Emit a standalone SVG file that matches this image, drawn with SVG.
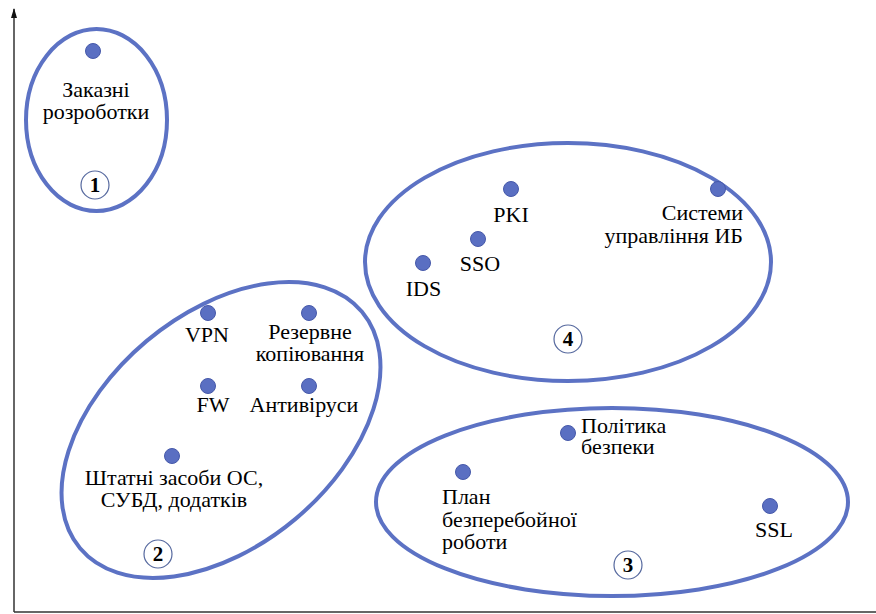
<svg xmlns="http://www.w3.org/2000/svg" width="876" height="614" viewBox="0 0 876 614">
<defs>
<style>
.grp{fill:none;stroke:#5C72C4;stroke-width:4}
.dot{fill:#5A6FC2;stroke:#4659AA;stroke-width:1}
text{font-family:'Liberation Serif','Times New Roman',serif}
.t{font-size:22px;fill:#000}
.m{text-anchor:middle}
.e{text-anchor:end}
.num{fill:#fff;stroke:#55689E;stroke-width:1.2}
.nt{font-size:21px;font-weight:bold;text-anchor:middle;fill:#000}
.ax{stroke:#333;stroke-width:1.5;fill:none}
</style>
<marker id="arr" markerWidth="10" markerHeight="10" refX="9" refY="5" orient="auto" markerUnits="userSpaceOnUse">
<path d="M0,2 L10,5 L0,8 Z" fill="#111"/>
</marker>
</defs>
<rect width="876" height="614" fill="#fff"/>
<g id="axes">
<line class="ax" x1="14" y1="612" x2="14" y2="9" marker-end="url(#arr)"/>
<line class="ax" x1="14" y1="612" x2="876" y2="612"/>
</g>
<g id="group1">
<ellipse class="grp" cx="96.5" cy="120" rx="70.5" ry="91"/>
<circle class="num" cx="95" cy="185" r="14"/>
<text class="nt" x="95" y="192">1</text>
</g>
<g id="group2">
<ellipse class="grp" cx="221" cy="430" rx="184" ry="116" transform="rotate(-40 221 430)"/>
<circle class="num" cx="158" cy="554" r="14"/>
<text class="nt" x="158" y="561">2</text>
</g>
<g id="group4">
<ellipse class="grp" cx="568" cy="262" rx="203" ry="119"/>
<circle class="num" cx="568" cy="339" r="14"/>
<text class="nt" x="568" y="346">4</text>
</g>
<g id="group3">
<ellipse class="grp" cx="612" cy="502" rx="236" ry="94"/>
<circle class="num" cx="628" cy="565" r="14"/>
<text class="nt" x="628" y="572">3</text>
</g>
<g id="n-zakazni">
<circle class="dot" cx="93" cy="51" r="7.5"/>
<text class="t m" x="96" y="97">Заказні</text>
<text class="t m" x="96" y="119">розроботки</text>
</g>
<g id="n-vpn">
<circle class="dot" cx="208" cy="313" r="7.5"/>
<text class="t m" x="207" y="342">VPN</text>
</g>
<g id="n-backup">
<circle class="dot" cx="309" cy="313" r="7.5"/>
<text class="t m" x="310" y="339">Резервне</text>
<text class="t m" x="310" y="361">копіювання</text>
</g>
<g id="n-fw">
<circle class="dot" cx="208" cy="386" r="7.5"/>
<text class="t m" x="213" y="412">FW</text>
</g>
<g id="n-av">
<circle class="dot" cx="309" cy="386" r="7.5"/>
<text class="t m" x="304" y="412">Антивіруси</text>
</g>
<g id="n-os">
<circle class="dot" cx="172" cy="456" r="7.5"/>
<text class="t m" x="174" y="485">Штатні засоби ОС,</text>
<text class="t m" x="174" y="507">СУБД, додатків</text>
</g>
<g id="n-pki">
<circle class="dot" cx="511" cy="189" r="7.5"/>
<text class="t m" x="511" y="222">PKI</text>
</g>
<g id="n-sso">
<circle class="dot" cx="478" cy="239" r="7.5"/>
<text class="t m" x="480" y="271">SSO</text>
</g>
<g id="n-ids">
<circle class="dot" cx="423" cy="263" r="7.5"/>
<text class="t m" x="423.5" y="296">IDS</text>
</g>
<g id="n-sys">
<circle class="dot" cx="718" cy="189" r="7.5"/>
<text class="t e" x="743" y="220">Системи</text>
<text class="t e" x="743" y="243">управління ИБ</text>
</g>
<g id="n-policy">
<circle class="dot" cx="568" cy="433" r="7.5"/>
<text class="t" x="581" y="433">Політика</text>
<text class="t" x="581" y="454">безпеки</text>
</g>
<g id="n-plan">
<circle class="dot" cx="463" cy="472" r="7.5"/>
<text class="t" x="442" y="504">План</text>
<text class="t" x="442" y="527">безперебойної</text>
<text class="t" x="442" y="549">роботи</text>
</g>
<g id="n-ssl">
<circle class="dot" cx="770" cy="506" r="7.5"/>
<text class="t m" x="774" y="537">SSL</text>
</g>
</svg>
